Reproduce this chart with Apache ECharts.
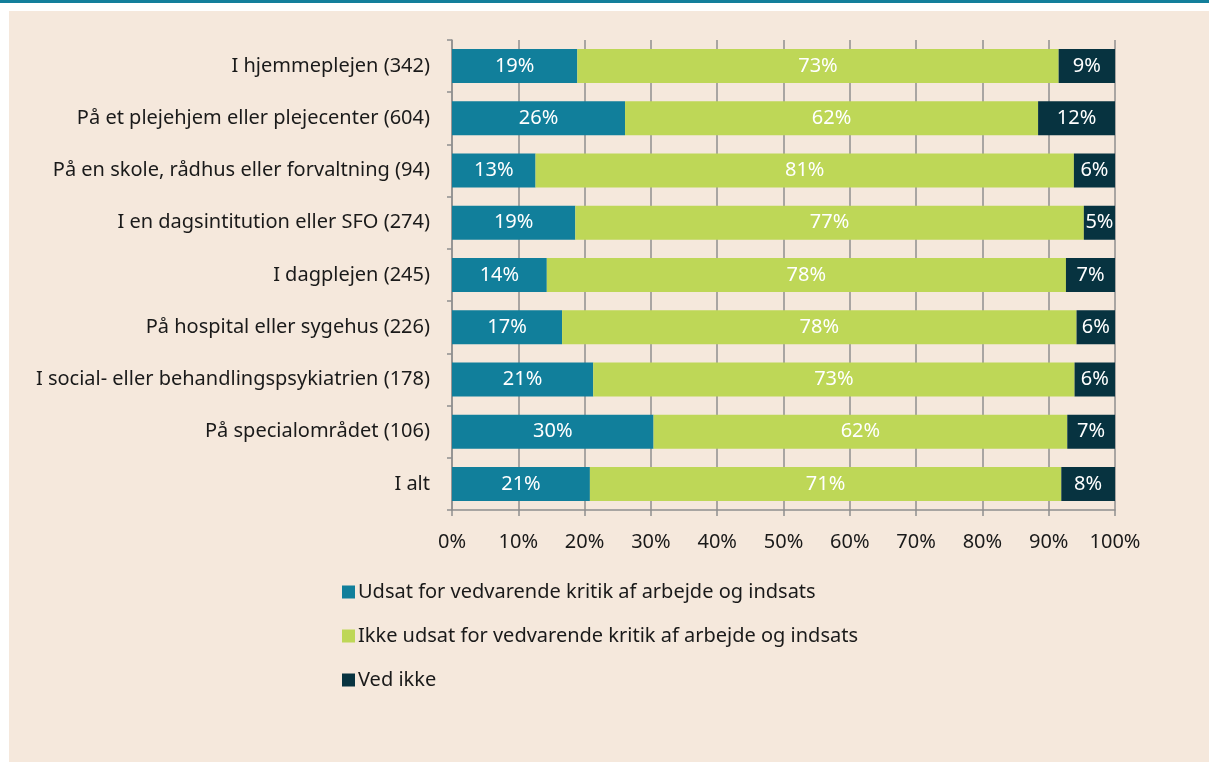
<!DOCTYPE html>
<html>
<head>
<meta charset="utf-8">
<script src="https://cdn.jsdelivr.net/npm/echarts@6/dist/echarts.min.js"></script>
<style>
  html, body { margin: 0; padding: 0; background: #fff; }
  #topline { position: absolute; left: 0; top: 0; width: 1209px; height: 3px; background: #137f9b; }
  #chart { position: absolute; left: 9px; top: 11px; width: 1200px; height: 751px; background: #f5e8dc; }
</style>
</head>
<body>
<div id="topline"></div>
<div id="chart"></div>
<script>
// kategorier (øverst først)
const categories = [
  "I hjemmeplejen (342)",
  "På et plejehjem eller plejecenter (604)",
  "På en skole, rådhus eller forvaltning (94)",
  "I en dagsintitution eller SFO (274)",
  "I dagplejen (245)",
  "På hospital eller sygehus (226)",
  "I social- eller behandlingspsykiatrien (178)",
  "På specialområdet (106)",
  "I alt"
];
// andele i procent
const udsat = [18.9, 26.1, 12.6, 18.6, 14.3, 16.6, 21.3, 30.4, 20.8];
const ikkeUdsat = [72.6, 62.3, 81.2, 76.7, 78.3, 77.6, 72.6, 62.4, 71.1];
const vedIkke = [8.5, 11.6, 6.2, 4.7, 7.4, 5.8, 6.1, 7.2, 8.1];

const seriesNames = [
  "Udsat for vedvarende kritik af arbejde og indsats",
  "Ikke udsat for vedvarende kritik af arbejde og indsats",
  "Ved ikke"
];
const colors = ["#117f9b", "#bed757", "#073340"];

const FONT = "'Noto Sans', sans-serif";
const gray = "#8f8f8f";

const chart = echarts.init(document.getElementById("chart"));

const makeSeries = (name, data, color) => ({
  name: name,
  type: "bar",
  stack: "total",
  data: data,
  barWidth: 34,
  itemStyle: { color: color },
  label: {
    show: true,
    position: "inside",
    color: "#ffffff",
    fontFamily: FONT,
    fontSize: 20,
    formatter: (p) => Math.round(p.value) + "%"
  }
});

chart.setOption({
  animation: false,
  grid: { left: 443, right: 94, top: 29, bottom: 252 },
  legend: {
    orient: "vertical",
    left: 328,
    top: 564,
    itemWidth: 13,
    itemHeight: 13,
    itemGap: 20,
    icon: "rect",
    data: seriesNames,
    textStyle: { color: "#1a1a1a", fontFamily: FONT, fontSize: 20, lineHeight: 24, padding: [0, 0, 0, -2] }
  },
  xAxis: {
    type: "value",
    min: 0,
    max: 100,
    interval: 10,
    axisLine: { show: true, lineStyle: { color: gray, width: 1.5 } },
    axisTick: { show: true, length: 6, lineStyle: { color: gray, width: 1.5 } },
    splitLine: { show: true, lineStyle: { color: gray, width: 1.5 } },
    axisLabel: {
      formatter: "{value}%",
      color: "#1a1a1a",
      fontFamily: FONT,
      fontSize: 20,
      margin: 22
    }
  },
  yAxis: {
    type: "category",
    inverse: true,
    data: categories,
    axisLine: { show: true, lineStyle: { color: gray, width: 1.5 } },
    axisTick: { show: true, length: 5, lineStyle: { color: gray, width: 1.5 } },
    axisLabel: {
      color: "#1a1a1a",
      fontFamily: FONT,
      fontSize: 20,
      margin: 22
    }
  },
  series: [
    makeSeries(seriesNames[0], udsat, colors[0]),
    makeSeries(seriesNames[1], ikkeUdsat, colors[1]),
    makeSeries(seriesNames[2], vedIkke, colors[2])
  ]
});
</script>
</body>
</html>
